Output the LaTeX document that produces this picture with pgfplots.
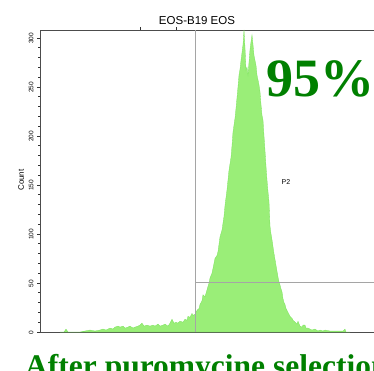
\documentclass[border=0pt]{standalone}
\usepackage{fontspec}
\setmainfont{Liberation Sans}
\newfontfamily\serifbf{Liberation Serif}
\usepackage{pgfplots}
\pgfplotsset{compat=1.18}
\usepackage{pgfplotstable}
\definecolor{histfill}{RGB}{154,238,120}
\definecolor{histline}{RGB}{122,226,92}
\definecolor{gategray}{RGB}{165,165,165}
\definecolor{labelgreen}{RGB}{0,128,0}

% EOS histogram: channel vs count
\pgfplotstableread{
ch cnt
20 0
24 0
26 3
28 0
40 0
45 1
50 2
55 1
60 2
63 3
66 2
70 4
73 3
75 5
78 6
80 5
83 6
85 4
88 5
90 6
93 4
95 5
98 6
100 7
102 9
104 6
107 7
110 6
113 7
115 6
118 8
120 6
123 7
125 8
128 6
130 9
132 13
134 9
136 10
138 9
140 11
143 10
145 13
147 12
148 16
150 15
152 19
153 17
155 18
157 22
159 24
160 28
162 32
163 38
165 36
167 43
169 50
170 55
172 60
173 65
175 75
177 78
178 82
180 97
182 104
184 118
185 129
187 145
189 165
191 178
192 190
193 204
195 218
196 228
198 250
199 262
200 268
201 277
202 285
203 293
204 308
205 290
206 267
207 270
208 262
209 275
210 288
211 296
212 303
213 293
214 282
215 277
216 272
217 262
218 257
219 252
220 245
221 232
222 221
223 216
224 200
225 185
226 169
227 155
228 143
229 133
230 108
231 100
232 94
233 87
234 80
236 68
237 62
238 56
239 51
240 48
241 44
242 41
243 34
244 30
245 28
246 24
248 20
250 16
252 14
253 12
255 10
257 8
258 11
260 6
262 5
263 7
265 7
266 4
268 4
270 3
272 2
275 3
278 1
280 2
283 1
285 2
290 1
295 1
303 1
305 3
306 0
310 0
}\histdata

\begin{document}
\begin{tikzpicture}[x=1pt,y=1pt]
\path[use as bounding box] (0,0) rectangle (374,370);
\begin{axis}[
    at={(40pt,38pt)}, anchor=south west,
    scale only axis,
    width=340pt, height=302pt,
    xmin=0, xmax=340,
    ymin=0, ymax=308,
    axis line style={draw=black!70, line width=0.6pt},
    xtick={100,136}, xtick pos=top, xticklabels={},
    ytick={0,50,...,300}, ytick pos=left,
    minor y tick num=4,
    tick align=outside,
    major tick length=3pt, minor tick length=2pt,
    tick style={black!80, line width=0.6pt},
    /pgf/number format/assume math mode=true,
    yticklabel style={rotate=90, anchor=south, font=\fontsize{6.5}{7}\selectfont, xshift=-0.5pt},
    clip=true,
  ]
  \addplot[fill=histfill, draw=histline, line width=0.3pt] table[x=ch, y=cnt] {\histdata} \closedcycle;
  \addplot[gategray, line width=0.9pt] coordinates {(155,0) (155,308)};
  \addplot[gategray, line width=0.9pt] coordinates {(155,51) (340,51)};
  \node[font=\fontsize{7}{8}\selectfont] at (axis cs:246,153) {P2};
\end{axis}
\node[rotate=90, font=\fontsize{8}{9}\selectfont] at (21,190) {Count};
\node[font=\fontsize{11.5}{12}\selectfont] at (197,349) {EOS-B19 EOS};
\node[font=\serifbf\bfseries\fontsize{54}{56}\selectfont, text=labelgreen] at (320,291) {95\%};
\node[font=\serifbf\bfseries\fontsize{31.5}{33}\selectfont, text=labelgreen, anchor=base west, inner sep=0pt] at (25,-6) {After puromycine selection};
\end{tikzpicture}
\end{document}
